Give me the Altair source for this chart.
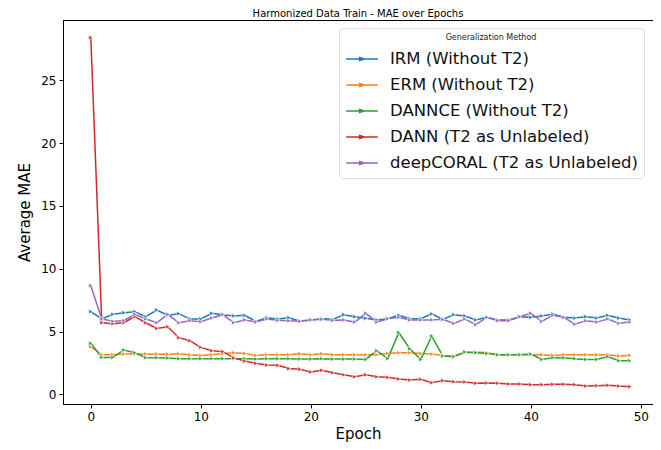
import altair as alt
import pandas as pd

epochs = list(range(50))
irm = [6.58, 6.0, 6.37, 6.5, 6.58, 6.18, 6.71, 6.3, 6.42, 6.0,
       6.0, 6.45, 6.34, 6.24, 6.29, 5.81, 6.1, 6.0, 6.1, 5.84,
       5.92, 6.02, 5.97, 6.34, 6.18, 6.05, 5.92, 6.02, 6.29, 6.02,
       6.02, 6.4, 5.97, 6.34, 6.24, 5.92, 6.13, 5.92, 5.92, 6.18,
       6.13, 6.24, 6.4, 6.13, 6.07, 6.18, 6.07, 6.29, 6.07, 5.92]
erm = [3.79, 3.15, 3.15, 3.21, 3.21, 3.21, 3.2, 3.2, 3.23, 3.15,
       3.1, 3.15, 3.25, 3.31, 3.26, 3.1, 3.15, 3.15, 3.15, 3.23,
       3.15, 3.23, 3.15, 3.15, 3.15, 3.15, 3.15, 3.26, 3.31, 3.31,
       3.26, 3.21, 3.1, 3.05, 3.31, 3.37, 3.31, 3.15, 3.15, 3.15,
       3.15, 3.15, 3.1, 3.15, 3.15, 3.15, 3.15, 3.15, 3.05, 3.1]
dannce = [4.06, 2.94, 2.94, 3.53, 3.31, 2.92, 2.92, 2.9, 2.84, 2.84,
          2.84, 2.84, 2.84, 2.84, 2.84, 2.81, 2.84, 2.84, 2.84, 2.81,
          2.81, 2.84, 2.81, 2.81, 2.81, 2.78, 3.47, 2.84, 4.91, 3.63,
          2.78, 4.64, 3.05, 3.0, 3.37, 3.31, 3.26, 3.15, 3.15, 3.15,
          3.21, 2.78, 2.92, 2.92, 2.84, 2.78, 2.78, 3.0, 2.68, 2.68]
dann = [28.4, 5.7, 5.62, 5.7, 6.18, 5.7, 5.25, 5.38, 4.51, 4.27,
        3.74, 3.47, 3.4, 2.9, 2.65, 2.47, 2.33, 2.31, 2.05, 2.0,
        1.78, 1.91, 1.72, 1.56, 1.4, 1.55, 1.4, 1.35, 1.22, 1.14,
        1.2, 0.93, 1.09, 1.01, 0.98, 0.88, 0.9, 0.88, 0.82, 0.82,
        0.77, 0.77, 0.8, 0.8, 0.77, 0.66, 0.69, 0.72, 0.66, 0.61]
coral = [8.65, 6.0, 5.81, 5.86, 6.37, 6.0, 5.7, 6.37, 5.7, 5.86,
         5.78, 6.07, 6.34, 5.7, 5.92, 5.75, 6.0, 5.89, 5.86, 5.81,
         5.92, 5.97, 5.89, 5.92, 5.75, 6.45, 5.75, 6.02, 6.13, 5.92,
         5.92, 5.92, 5.97, 5.65, 6.0, 5.54, 6.13, 5.86, 5.86, 6.18,
         6.45, 5.81, 6.29, 6.13, 5.59, 5.86, 5.75, 6.0, 5.65, 5.75]

methods = ["IRM (Without T2)", "ERM (Without T2)", "DANNCE (Without T2)",
           "DANN (T2 as Unlabeled)", "deepCORAL (T2 as Unlabeled)"]
colors = ["#1f77b4", "#ff7f0e", "#2ca02c", "#d62728", "#9467bd"]
series = [irm, erm, dannce, dann, coral]

rows = []
for m, vals in zip(methods, series):
    for e, v in zip(epochs, vals):
        rows.append({"Epoch": e, "MAE": v, "Method": m})
df = pd.DataFrame(rows)

font = "DejaVu Sans"

x = alt.X("Epoch:Q", scale=alt.Scale(domain=[-2.527, 51.11], nice=False, zero=False),
          axis=alt.Axis(values=[0, 10, 20, 30, 40, 50], title="Epoch", grid=False,
                        titleFontSize=15, titleFontWeight="normal", labelFontSize=12,
                        titlePadding=4))
y = alt.Y("MAE:Q", scale=alt.Scale(domain=[-0.77, 29.8], nice=False, zero=False),
          axis=alt.Axis(values=[0, 5, 10, 15, 20, 25], title="Average MAE", grid=False,
                        titleFontSize=15, titleFontWeight="normal", labelFontSize=12,
                        titlePadding=8))
color = alt.Color("Method:N", sort=methods,
                  scale=alt.Scale(domain=methods, range=colors),
                  legend=alt.Legend(title="Generalization Method", orient="none",
                                    legendX=276, legendY=8,
                                    titleFontSize=8, titleFontWeight="normal",
                                    titleAnchor="middle", titleColor="#222",
                                    titlePadding=0,
                                    labelFontSize=16.5, labelColor="#111", labelLimit=400,
                                    symbolType="M-1,0L-0.2,0M0.2,0L1,0M-0.15,-0.1L0.15,0L-0.15,0.1Z",
                                    symbolSize=1000, symbolStrokeWidth=1.5,
                                    rowPadding=-8, labelOffset=11,
                                    padding=6, cornerRadius=4,
                                    strokeColor="#dddddd", fillColor="white"))

lines = alt.Chart(df).mark_line(strokeWidth=1.5).encode(x=x, y=y, color=color,
                                                         order="Epoch:Q")
pts = alt.Chart(df).mark_point(shape="triangle-right", filled=True, size=22,
                               stroke="white", strokeWidth=0.6, opacity=1).encode(
    x="Epoch:Q", y="MAE:Q", fill=alt.Fill("Method:N", scale=alt.Scale(domain=methods, range=colors), legend=None))

chart = alt.layer(lines, pts).properties(
    width=590, height=384,
    title=alt.TitleParams("Harmonized Data Train - MAE over Epochs", fontSize=10,
                          fontWeight="normal", offset=1),
    autosize=alt.AutoSizeParams(type="none"),
    padding={"left": 55, "top": 12, "right": 0, "bottom": 46},
).configure(font=font).configure_view(stroke="black", strokeWidth=1).configure_axis(
    domainColor="black", tickColor="black", labelColor="black", titleColor="black",
    tickSize=4, labelPadding=3, domainWidth=1
)

chart.save("out.html", embed_options={"renderer": "svg", "actions": False})
